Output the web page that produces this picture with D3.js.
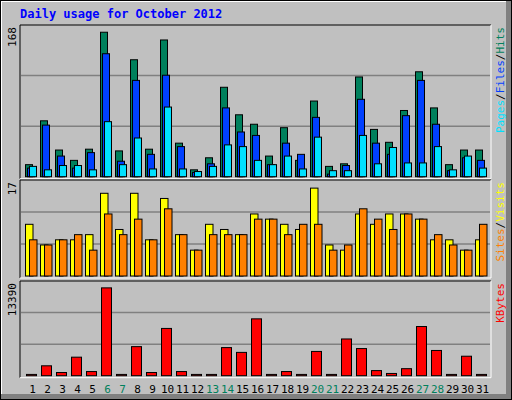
<!DOCTYPE html>
<html><head><meta charset="utf-8">
<script src="https://cdn.jsdelivr.net/npm/d3@7/dist/d3.min.js"></script>
<style>body{margin:0;background:#fff}text{font-family:"DejaVu Sans Mono",monospace}</style>
</head><body><svg id="c" width="512" height="400"></svg>
<script>
const days = d3.range(1,32);
const weekend = [6,7,13,14,20,21,27,28];
const hits  = [14,65,31,19,32,168,30,136,32,159,39,8,22,104,72,61,24,57,19,88,12,15,116,55,40,77,122,80,14,31,31];
const files = [10,60,24,10,28,143,18,112,26,118,35,5,15,80,52,48,14,39,26,69,3,13,90,39,26,71,112,61,7,22,19];
const pages = [12,8,13,13,8,64,14,45,9,81,9,6,12,37,35,19,14,24,9,46,7,7,48,15,34,16,16,35,8,24,10];
const visits= [10,6,7,7,8,16,9,16,7,15,8,5,10,9,8,12,11,10,9,17,6,5,12,10,12,12,11,7,7,5,7];
const sites = [7,6,7,8,5,12,8,11,7,13,8,5,8,8,8,11,11,8,10,10,5,6,13,11,9,12,11,8,6,5,10];
const kbytes= [195,1509,487,2824,633,13390,195,4431,487,7206,633,195,195,4285,3554,8667,195,633,195,3700,195,5600,4139,779,341,1071,7498,3847,195,2970,195];

const svg = d3.select("#c");
// frame
svg.append("rect").attr("x",0).attr("y",0).attr("width",512).attr("height",400).attr("fill","#000");
svg.append("rect").attr("x",1).attr("y",1).attr("width",510).attr("height",398).attr("fill","#808080");
svg.append("rect").attr("x",1).attr("y",1).attr("width",505).attr("height",393).attr("fill","#fff");
svg.append("rect").attr("x",2).attr("y",2).attr("width",504).attr("height",392).attr("fill","#c0c0c0");
svg.append("text").attr("x",20).attr("y",18).attr("fill","#0000ff").attr("font-weight","bold")
  .attr("font-size",12).text("Daily usage for October 2012");

const x = d3.scaleBand().domain(days).range([25,490]).paddingInner(0).paddingOuter(0);
const L = 20, R = 491;

function panel(top, base, max, maxLabel, series, labels) {
  svg.append("rect").attr("x",L).attr("y",top).attr("width",R-L).attr("height",base+2-top)
    .attr("fill","#c0c0c0");
  const y = d3.scaleLinear().domain([0,max]).range([base, top+4]);
  const h = base - top;
  [1,2].forEach(i=>svg.append("line").attr("x1",L+1).attr("x2",R-1)
    .attr("y1",base - h*i/3).attr("y2",base - h*i/3).attr("stroke","#808080").attr("stroke-width",1.5));
  series.forEach(s=>{
    svg.append("g").selectAll("rect").data(s.data).join("rect")
      .attr("x",(d,i)=>x(days[i])+s.off+0.5).attr("width",s.w)
      .attr("y",d=>y(d)).attr("height",d=>Math.max(1,base-y(d)))
      .attr("fill",s.color).attr("stroke","#000").attr("stroke-width",1);
  });
  // borders
  svg.append("line").attr("x1",L).attr("x2",R).attr("y1",top).attr("y2",top).attr("stroke","#000");
  svg.append("line").attr("x1",L).attr("x2",L).attr("y1",top).attr("y2",base+2).attr("stroke","#000");
  svg.append("line").attr("x1",R).attr("x2",R).attr("y1",top).attr("y2",base+2).attr("stroke","#fff");
  svg.append("line").attr("x1",L).attr("x2",R).attr("y1",base+2).attr("y2",base+2).attr("stroke","#fff");
  svg.append("text").attr("transform",`translate(16,${top+2}) rotate(-90)`).attr("text-anchor","end")
    .attr("font-size",11).attr("fill","#000").text(maxLabel);
  // right labels (reading bottom-up)
  const t = svg.append("text").attr("transform",`translate(504,${top+2}) rotate(-90)`)
    .attr("text-anchor","end").attr("font-size",11);
  labels.forEach((l,i)=>{
    if(i>0) t.append("tspan").attr("fill","#000").text("/");
    t.append("tspan").attr("fill",l[1]).text(l[0]);
  });
}
panel(25,176.7,168*150.7/147.4,"168",[
  {data:hits,color:"#00805c",off:0,w:7},
  {data:files,color:"#0040ff",off:2,w:7},
  {data:pages,color:"#00e0ff",off:4,w:7}],
  [["Pages","#00e0ff"],["Files","#0040ff"],["Hits","#00805c"]]);
panel(180,276,17*96/91.7,"17",[
  {data:visits,color:"#ffff00",off:0,w:7.5},
  {data:sites,color:"#ff8000",off:4,w:7.5}],
  [["Sites","#ff8000"],["Visits","#ffff00"]]);
panel(281,375.7,13390*94.7/91.7,"13390",[
  {data:kbytes,color:"#ff0000",off:1,w:10}],
  [["KBytes","#ff0000"]]);

svg.append("g").selectAll("text").data(days).join("text")
  .attr("x",d=>x(d)+x.bandwidth()/2).attr("y",393).attr("text-anchor","middle")
  .attr("font-size",11).attr("fill",d=>weekend.includes(d)?"#00805c":"#000").text(d=>d);
</script></body></html>
